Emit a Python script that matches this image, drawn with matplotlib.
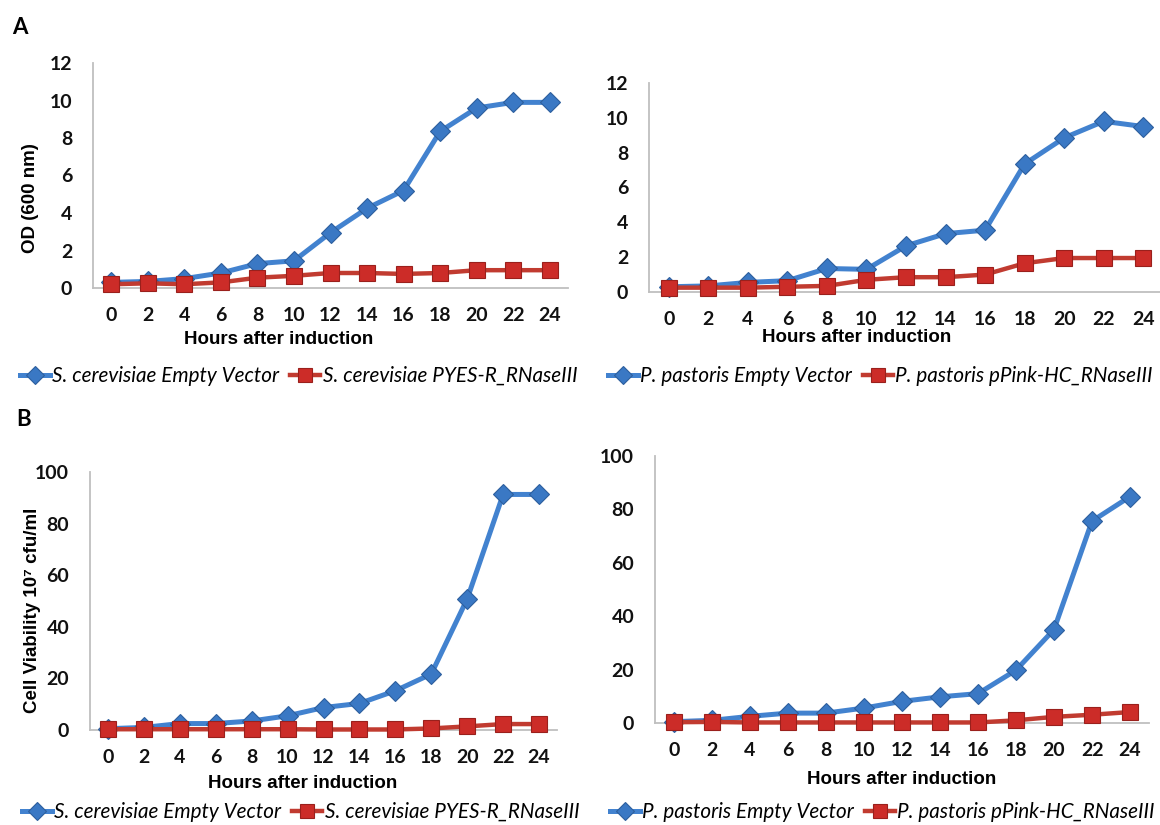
import matplotlib
matplotlib.use("Agg")
import matplotlib.pyplot as plt
from matplotlib.lines import Line2D

hours = [0, 2, 4, 6, 8, 10, 12, 14, 16, 18, 20, 22, 24]

sc_od_empty = [0.3, 0.35, 0.5, 0.8, 1.3, 1.45, 2.95, 4.25, 5.2, 8.35, 9.6, 9.9, 9.9]
sc_od_rnase = [0.2, 0.25, 0.2, 0.3, 0.55, 0.65, 0.8, 0.8, 0.75, 0.8, 0.95, 0.95, 0.95]
pp_od_empty = [0.3, 0.35, 0.55, 0.65, 1.35, 1.3, 2.65, 3.35, 3.55, 7.35, 8.85, 9.8, 9.5]
pp_od_rnase = [0.25, 0.25, 0.25, 0.3, 0.35, 0.7, 0.85, 0.85, 1.0, 1.65, 1.95, 1.95, 1.95]
sc_cv_empty = [0.5, 1.0, 2.5, 2.5, 3.5, 5.5, 8.7, 10.3, 15.2, 21.7, 50.8, 91.3, 91.3]
sc_cv_rnase = [0.3, 0.3, 0.3, 0.3, 0.3, 0.3, 0.2, 0.2, 0.2, 0.6, 1.4, 2.3, 2.3]
pp_cv_empty = [0.5, 1.0, 2.5, 3.7, 3.7, 5.6, 8.1, 9.8, 11.0, 19.8, 35.0, 75.6, 84.8]
pp_cv_rnase = [0.3, 0.4, 0.2, 0.2, 0.2, 0.2, 0.2, 0.2, 0.2, 1.0, 2.3, 3.1, 4.1]

sc_labels = ["S. cerevisiae Empty Vector", "S. cerevisiae PYES-R_RNaseIII"]
pp_labels = ["P. pastoris Empty Vector", "P. pastoris pPink-HC_RNaseIII"]
xlabel = "Hours after induction"
ylabel_a = "OD (600 nm)"
ylabel_b = "Cell Viability 10\u2077 cfu/ml"

W, H = 1160, 825
BLUE_LINE = "#4282CF"
BLUE_FACE = "#3A78C4"
BLUE_EDGE = "#2D5F9E"
RED_LINE = "#C13B30"
RED_FACE = "#CC2C28"
RED_EDGE = "#9A201C"
AXCOL = "#BFBFBF"

TICK_FONT = dict(family="Lato", weight="bold", size=14)
LAB_FONT = dict(family=["Liberation Sans", "DejaVu Sans"], weight="bold", size=13.5)

fig = plt.figure(figsize=(W / 100, H / 100), dpi=100)
fig.patch.set_facecolor("white")


def add_ax(x0, x1, ytop, ybot):
    return fig.add_axes([x0 / W, 1 - ybot / H, (x1 - x0) / W, (ybot - ytop) / H])


def style(ax, ymax, ystep):
    ax.set_xlim(-1, 25)
    ax.set_ylim(0, ymax)
    ax.set_xticks(hours)
    ax.set_yticks(list(range(0, ymax + 1, ystep)))
    for s in ("top", "right"):
        ax.spines[s].set_visible(False)
    for s in ("left", "bottom"):
        ax.spines[s].set_color(AXCOL)
        ax.spines[s].set_linewidth(1.3)
    ax.tick_params(length=0)
    ax.tick_params(axis="x", pad=14)
    ax.tick_params(axis="y", pad=15)
    for lab in ax.get_xticklabels() + ax.get_yticklabels():
        lab.set_fontfamily(TICK_FONT["family"])
        lab.set_fontweight(TICK_FONT["weight"])
        lab.set_fontsize(TICK_FONT["size"])
        lab.set_color("#111111")
    ax.patch.set_alpha(0)


def plot_series(ax, y1, y2):
    ax.plot(hours, y1, color=BLUE_LINE, lw=3.6, marker="D", ms=10,
            mfc=BLUE_FACE, mec=BLUE_EDGE, mew=0.8, zorder=3, clip_on=False)
    ax.plot(hours, y2, color=RED_LINE, lw=3.2, marker="s", ms=11,
            mfc=RED_FACE, mec=RED_EDGE, mew=0.8, zorder=4, clip_on=False)


def set_xlab(ax, fx, fy):
    ax.set_xlabel(xlabel, **LAB_FONT)
    ax.xaxis.label.set_va("center")
    ax.xaxis.label.set_ha("center")
    ax.xaxis.set_label_coords(fx, fy)


def set_ylab(ax, text, fx, fy):
    ax.set_ylabel(text, **LAB_FONT)
    ax.yaxis.label.set_va("center")
    ax.yaxis.label.set_ha("center")
    ax.yaxis.set_label_coords(fx, fy)


def add_legend(labels, x, y):
    h1 = Line2D([], [], color=BLUE_LINE, lw=3.6, marker="D", ms=9,
                mfc=BLUE_FACE, mec=BLUE_EDGE, mew=0.8)
    h2 = Line2D([], [], color=RED_LINE, lw=3.2, marker="s", ms=10,
                mfc=RED_FACE, mec=RED_EDGE, mew=0.8)
    fig.legend([h1, h2], labels, loc="center left",
               bbox_to_anchor=(x / W, 1 - y / H), ncol=2, frameon=False,
               numpoints=1, handlelength=1.45, handletextpad=0.1,
               columnspacing=0.55, borderpad=0, borderaxespad=0,
               prop=dict(family="Lato", style="italic", size=14.9))


# Panel A left
ax1 = add_ax(93, 568, 63, 288)
style(ax1, 12, 2)
plot_series(ax1, sc_od_empty, sc_od_rnase)
set_xlab(ax1, (279 - 93) / 475, -(339 - 288) / 225)
set_ylab(ax1, ylabel_a, (31 - 93) / 475, (288 - 198) / 225)
add_legend(sc_labels, 20, 376)

# Panel A right
ax2 = add_ax(649, 1163, 83, 292)
style(ax2, 12, 2)
plot_series(ax2, pp_od_empty, pp_od_rnase)
set_xlab(ax2, (857 - 649) / 514, -(338 - 292) / 209)
add_legend(pp_labels, 608, 376)

# Panel B left
ax3 = add_ax(90, 557, 472, 730)
style(ax3, 100, 20)
plot_series(ax3, sc_cv_empty, sc_cv_rnase)
set_xlab(ax3, (303 - 90) / 467, -(783 - 730) / 258)
set_ylab(ax3, ylabel_b, (33 - 90) / 467, (730 - 610) / 258)
add_legend(sc_labels, 22, 812)

# Panel B right
ax4 = add_ax(655, 1149, 456, 723)
style(ax4, 100, 20)
plot_series(ax4, pp_cv_empty, pp_cv_rnase)
set_xlab(ax4, (902 - 655) / 494, -(780 - 723) / 267)
add_legend(pp_labels, 610, 812)

fig.text(20 / W, 1 - 28 / H, "A", family="Lato", weight="bold", size=16,
         ha="center", va="center")
fig.text(24 / W, 1 - 420 / H, "B", family="Lato", weight="bold", size=16,
         ha="center", va="center")

fig.savefig("out.png", dpi=100, facecolor="white")
